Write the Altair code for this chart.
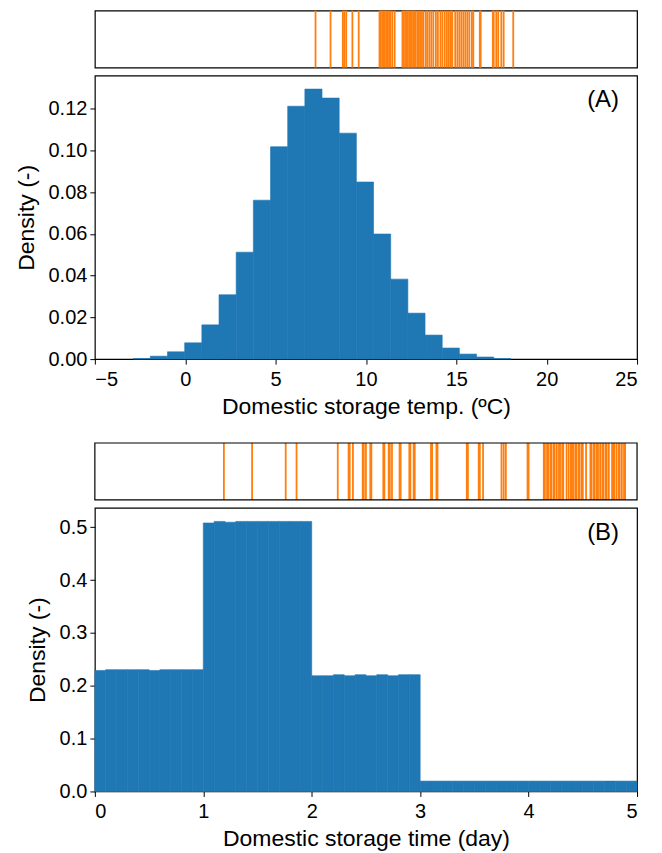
import altair as alt
import pandas as pd

# ---------------- Panel A: domestic storage temperature ----------------
temp_edges = [-2.88, -1.93, -0.98, -0.03, 0.92, 1.87, 2.82, 3.77, 4.72, 5.67, 6.62,
              7.57, 8.52, 9.47, 10.42, 11.37, 12.32, 13.27, 14.22, 15.17, 16.12,
              17.07, 18.02]
temp_density = [0.0003, 0.0014, 0.0035, 0.0078, 0.0164, 0.0308, 0.0512, 0.0761,
                0.1017, 0.1211, 0.1293, 0.1250, 0.1082, 0.0848, 0.0599, 0.0383,
                0.0220, 0.0115, 0.0053, 0.0024, 0.0010, 0.0003]
temp_rug = [7.21, 8.04, 8.72, 8.80, 8.91, 9.25, 9.60,
            10.75, 10.82, 10.90, 10.97, 11.04, 11.12, 11.20, 11.28, 11.35, 11.46, 11.59,
            12.02, 12.09, 12.17, 12.24, 12.31, 12.39, 12.46, 12.53, 12.61, 12.68, 12.75,
            12.85, 12.93, 13.01, 13.10, 13.18, 13.31, 13.40, 13.51, 13.62, 13.73,
            13.87, 13.98, 14.12, 14.23, 14.36, 14.48, 14.59, 14.70, 14.78,
            14.94, 15.06, 15.17, 15.28, 15.39, 15.50, 15.61, 15.72, 15.86, 15.94,
            16.30, 16.35, 17.02, 17.07, 17.21, 17.32, 17.49, 17.62, 18.15]
temp_ticks = [-5, 0, 5, 10, 15, 20, 25]
temp_yticks = [0.0, 0.02, 0.04, 0.06, 0.08, 0.10, 0.12]

# ---------------- Panel B: domestic storage time ----------------
time_edges = [0.0, 0.1, 0.2, 0.3, 0.4, 0.5, 0.6, 0.7, 0.8, 0.9, 1.0,
              1.1, 1.2, 1.3, 1.4, 1.5, 1.6, 1.7, 1.8, 1.9, 2.0,
              2.1, 2.2, 2.3, 2.4, 2.5, 2.6, 2.7, 2.8, 2.9, 3.0,
              3.1, 3.2, 3.3, 3.4, 3.5, 3.6, 3.7, 3.8, 3.9, 4.0,
              4.1, 4.2, 4.3, 4.4, 4.5, 4.6, 4.7, 4.8, 4.9, 5.0]
time_density = [0.229, 0.2305, 0.2305, 0.2305, 0.2305, 0.229, 0.2305, 0.2305, 0.2305, 0.2305,
                0.508, 0.511, 0.5095, 0.511, 0.511, 0.511, 0.511, 0.511, 0.511, 0.511,
                0.219, 0.219, 0.221, 0.219, 0.221, 0.219, 0.221, 0.219, 0.221, 0.221,
                0.0196, 0.0196, 0.0196, 0.0196, 0.0196, 0.0196, 0.0196, 0.0196, 0.0196, 0.0196,
                0.0196, 0.0196, 0.0196, 0.0196, 0.0196, 0.0196, 0.0196, 0.0196, 0.0196, 0.0196]
time_rug = [1.19, 1.45, 1.76, 1.86, 2.24, 2.34, 2.35, 2.38, 2.47, 2.48, 2.50, 2.54, 2.55,
            2.66, 2.67, 2.71, 2.72, 2.74, 2.81, 2.82, 2.90, 2.91, 2.94, 2.95,
            3.10, 3.11, 3.15, 3.16, 3.43, 3.44, 3.54, 3.55, 3.58, 3.75, 3.77, 3.79,
            3.99, 4.00, 4.14, 4.15, 4.17, 4.18, 4.20, 4.21, 4.23, 4.24, 4.26, 4.28,
            4.29, 4.31, 4.32, 4.35, 4.37, 4.39, 4.40, 4.41, 4.43, 4.44, 4.46, 4.47,
            4.49, 4.50, 4.53, 4.57, 4.58, 4.60, 4.61, 4.63, 4.64, 4.66, 4.68, 4.69,
            4.71, 4.72, 4.74, 4.77, 4.78, 4.79, 4.81, 4.83, 4.84, 4.86, 4.88, 4.89]
time_ticks = [0, 1, 2, 3, 4, 5]
time_yticks = [0.0, 0.1, 0.2, 0.3, 0.4, 0.5]

BLUE = "#1f77b4"
ORANGE = "#ff7f0e"
FONT = "Liberation Sans"
W = 543
H_RUG = 57
H_HIST = 284
GAP_B = 76          # extra room above panel B's rug box (space for panel A's x axis)


def hist_df(edges, dens):
    return pd.DataFrame({"x0": edges[:-1], "x1": edges[1:], "d": dens})


def rug_chart(values, domain):
    df = pd.DataFrame({"v": values})
    return alt.Chart(df).mark_rule(color=ORANGE, strokeWidth=1.8).encode(
        x=alt.X("v:Q", scale=alt.Scale(domain=domain, nice=False, zero=False), axis=None)
    ).properties(width=W, height=H_RUG)


def rug_chart_offset(values, domain):
    df = pd.DataFrame({"v": values})
    rules = alt.Chart(df).mark_rule(color=ORANGE, strokeWidth=1.8).encode(
        x=alt.X("v:Q", scale=alt.Scale(domain=domain, nice=False, zero=False), axis=None),
        y=alt.value(GAP_B), y2=alt.value(GAP_B + H_RUG),
    )
    box = alt.Chart(pd.DataFrame({"k": [0]})).mark_rect(
        fillOpacity=0, stroke="black", strokeWidth=1.2
    ).encode(x=alt.value(0), x2=alt.value(W), y=alt.value(GAP_B), y2=alt.value(GAP_B + H_RUG))
    return alt.layer(rules, box).properties(
        width=W, height=GAP_B + H_RUG, view=alt.ViewBackground(stroke="transparent")
    )


def hist_chart(edges, dens, domain, xticks, ymax, yticks, yfmt, xtitle, tag):
    df = hist_df(edges, dens)
    bars = alt.Chart(df).mark_rect(color=BLUE, stroke=BLUE, strokeWidth=0.6).encode(
        x=alt.X("x0:Q", scale=alt.Scale(domain=domain, nice=False, zero=False),
                axis=alt.Axis(values=xticks, format="d", title=xtitle)),
        x2="x1:Q",
        y=alt.Y("d:Q", scale=alt.Scale(domain=[0, ymax], nice=False),
                axis=alt.Axis(values=yticks, format=yfmt, title="Density (-)")),
        y2=alt.datum(0),
    )
    label = alt.Chart(pd.DataFrame({"t": [tag]})).mark_text(
        align="right", baseline="middle", fontSize=24, font=FONT, color="black"
    ).encode(text="t:N", x=alt.value(W - 18), y=alt.value(25))
    return alt.layer(bars, label).properties(width=W, height=H_HIST)


rugA = rug_chart(temp_rug, [-5, 25])
histA = hist_chart(temp_edges, temp_density, [-5, 25], temp_ticks, 0.1358, temp_yticks,
                   ".2f", "Domestic storage temp. (ºC)", "(A)")
rugB = rug_chart_offset(time_rug, [0, 5])
histB = hist_chart(time_edges, time_density, [0, 5], time_ticks, 0.5366, time_yticks,
                   ".1f", "Domestic storage time (day)", "(B)")

chart = alt.vconcat(rugA, histA, rugB, histB, spacing=8, bounds="flush").properties(
    padding={"left": 14, "top": 8, "right": 23, "bottom": 5}
).configure_view(
    stroke="black", strokeWidth=1.2
).configure_axis(
    grid=False, domain=False, tickColor="black", tickSize=5, tickWidth=1,
    labelColor="black", labelFont=FONT, labelFontSize=20, labelPadding=3,
    titleColor="black", titleFont=FONT, titleFontSize=23, titleFontWeight="normal",
    titlePadding=6
).configure_axisX(labelPadding=5, titlePadding=6).configure_axisY(titlePadding=10)

chart.save("out.html", embed_options={"renderer": "svg", "actions": False})
